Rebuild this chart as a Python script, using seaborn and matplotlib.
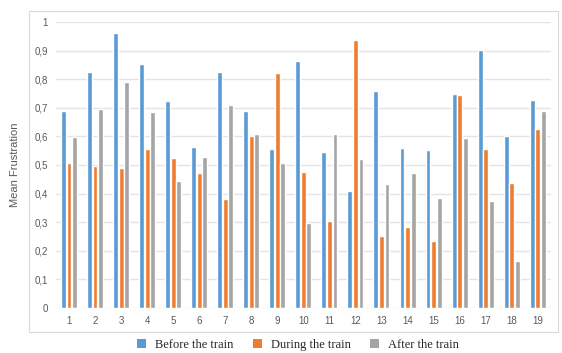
import pandas as pd
import numpy as np
import matplotlib.pyplot as plt
import seaborn as sns
from matplotlib.patches import Rectangle, Patch

# средние значения по участникам
participants = [str(i) for i in range(1, 20)]
before = [0.689, 0.824, 0.960, 0.854, 0.723, 0.563, 0.824, 0.689, 0.555, 0.865,
          0.544, 0.409, 0.759, 0.558, 0.552, 0.749, 0.901, 0.602, 0.726]
during = [0.506, 0.498, 0.490, 0.557, 0.524, 0.471, 0.381, 0.602, 0.822, 0.476,
          0.305, 0.937, 0.251, 0.283, 0.234, 0.744, 0.556, 0.437, 0.627]
after = [0.599, 0.696, 0.791, 0.684, 0.445, 0.528, 0.709, 0.607, 0.508, 0.298,
         0.607, 0.522, 0.434, 0.473, 0.385, 0.594, 0.374, 0.163, 0.689]
series = ['Before the train', 'During the train', 'After the train']
colors = ['#5B9BD5', '#ED7D31', '#A5A5A5']
y_ticks = [0, 0.1, 0.2, 0.3, 0.4, 0.5, 0.6, 0.7, 0.8, 0.9, 1]

df = pd.DataFrame({'participant': participants * 3,
                   'value': before + during + after,
                   'series': np.repeat(series, len(participants))})

sns.set_style('white')
plt.rcParams['font.family'] = ['Liberation Sans', 'DejaVu Sans']

fig = plt.figure(figsize=(5.62, 3.53), dpi=100)
ax = fig.add_axes([0.0996, 0.1275, 0.8804, 0.8102])

sns.barplot(data=df, x='participant', y='value', hue='series', hue_order=series,
            palette=colors, width=0.64, gap=0.12, ax=ax, legend=False,
            saturation=1, zorder=3)

ax.set_xlim(-0.5, 18.5)
ax.set_ylim(0, 1)
ax.set_yticks(y_ticks)
ax.set_yticklabels([('%g' % t).replace('.', ',') for t in y_ticks])
ax.grid(axis='y', color='#E4E4E4', linewidth=1.0, zorder=0)
ax.set_axisbelow(True)
for s in ax.spines.values():
    s.set_visible(False)
ax.tick_params(length=0, labelsize=7, labelcolor='#595959')
ax.tick_params(axis='y', pad=6)
ax.tick_params(axis='x', pad=6)
ax.set_xlabel('')
ax.set_ylabel('Mean Frustration', fontsize=8, color='#595959', labelpad=10)

# рамка диаграммы как в Excel
fig.patches.append(Rectangle((0.0516, 0.0595), 0.941, 0.909, transform=fig.transFigure,
                             facecolor='none', edgecolor='#D9D9D9', linewidth=0.8))

handles = [Patch(facecolor=c, edgecolor='none') for c in colors]
fig.legend(handles, series, loc='center', bbox_to_anchor=(0.53, 0.022), ncol=3,
           frameon=False, prop={'family': 'Liberation Serif', 'size': 9},
           handlelength=0.75, handleheight=0.75, handletextpad=0.7,
           columnspacing=1.55, borderaxespad=0)

plt.savefig('out.png', dpi=100)
